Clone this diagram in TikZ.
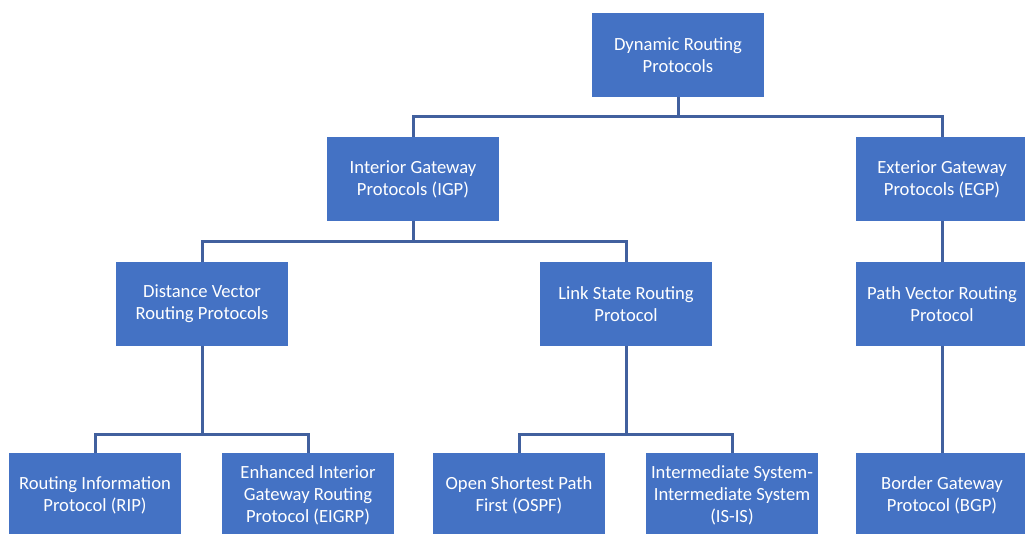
\documentclass[tikz,border=0pt]{standalone}
\usepackage{fontspec}
\setmainfont{Carlito}
\definecolor{boxblue}{HTML}{4472C4}
\definecolor{linkblue}{HTML}{41609E}
\begin{document}
\begin{tikzpicture}[x=1pt,y=-1pt,
  protobox/.style={draw=none,fill=boxblue,text=white,minimum width=172pt,
    minimum height=84pt,inner sep=0pt,align=center,
    font=\fontsize{18.6}{22}\selectfont},
  conn/.style={draw=linkblue,line width=3pt}]
\useasboundingbox (0,0) rectangle (1025,534);
\fill[white] (0,0) rectangle (1025,534);

% boxes
\node[protobox] (drp)   at (678,55)  {Dynamic Routing\\Protocols};
\node[protobox] (igp)   at (413,179) {Interior Gateway\\Protocols (IGP)};
\node[protobox] (egp)   at (942,179) {Exterior Gateway\\Protocols (EGP)};
\node[protobox] (dv)    at (202,304) {Distance Vector\\Routing Protocols};
\node[protobox] (ls)    at (626,304) {Link State Routing\\Protocol};
\node[protobox] (pv)    at (942,304) {Path Vector Routing\\Protocol};
\node[protobox] (rip)   at (95,495)  {Routing Information\\Protocol (RIP)};
\node[protobox] (eigrp) at (308,495) {Enhanced Interior\\Gateway Routing\\Protocol (EIGRP)};
\node[protobox] (ospf)  at (519,495) {Open Shortest Path\\First (OSPF)};
\node[protobox] (isis)  at (732,495) {Intermediate System-\\Intermediate System\\(IS-IS)};
\node[protobox] (bgp)   at (942,495) {Border Gateway\\Protocol (BGP)};

% bus levels
\coordinate (busA) at (0,117);
\coordinate (busB) at (0,242);
\coordinate (busC) at (0,434);

% connectors
\draw[conn] (drp.south) -- (drp.south |- busA);
\draw[conn] (igp.north) -- (igp.north |- busA) -- (egp.north |- busA) -- (egp.north);
\draw[conn] (igp.south) -- (igp.south |- busB);
\draw[conn] (dv.north) -- (dv.north |- busB) -- (ls.north |- busB) -- (ls.north);
\draw[conn] (egp.south) -- (pv.north);
\draw[conn] (dv.south) -- (dv.south |- busC);
\draw[conn] (rip.north) -- (rip.north |- busC) -- (eigrp.north |- busC) -- (eigrp.north);
\draw[conn] (ls.south) -- (ls.south |- busC);
\draw[conn] (ospf.north) -- (ospf.north |- busC) -- (isis.north |- busC) -- (isis.north);
\draw[conn] (pv.south) -- (bgp.north);
\end{tikzpicture}
\end{document}
